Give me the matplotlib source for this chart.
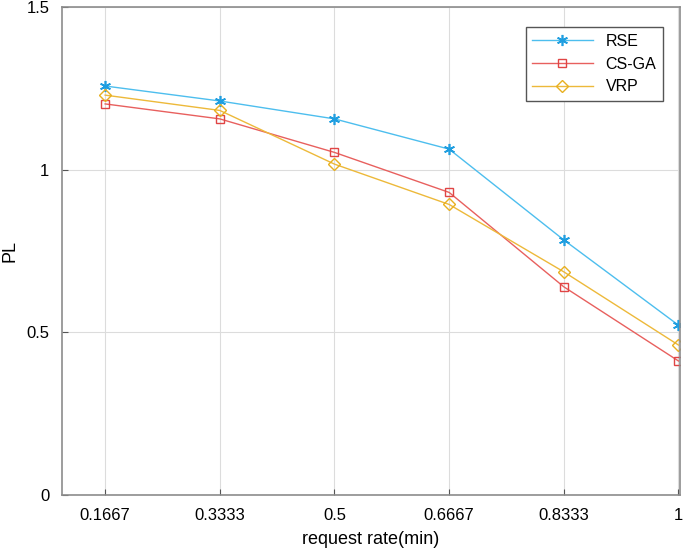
import matplotlib
matplotlib.use("Agg")
import matplotlib.pyplot as plt

plt.rcParams['font.family'] = ['Liberation Sans', 'DejaVu Sans']

rates = [0.1667, 0.3333, 0.5, 0.6667, 0.8333, 1.0]
rate_labels = ['0.1667', '0.3333', '0.5', '0.6667', '0.8333', '1']
rse = [1.257, 1.211, 1.156, 1.063, 0.784, 0.522]
csga = [1.202, 1.156, 1.053, 0.930, 0.640, 0.412]
vrp = [1.229, 1.182, 1.017, 0.893, 0.686, 0.461]

fig = plt.figure(figsize=(6.85, 5.55), dpi=100)
ax = fig.add_axes([0.0905, 0.108, 0.902, 0.8795])

# asterisk marker like matlab '*'
ax.plot(rates, rse, color='#4DBEEE', marker=(6, 2, 0), markersize=8, linewidth=1,
        markeredgecolor='#1f9ee0', markeredgewidth=1.2, label='RSE')
ax.plot(rates, csga, color='#E8605E', marker='s', markersize=6, linewidth=1,
        markerfacecolor='none', markeredgecolor='#E04545', label='CS-GA')
ax.plot(rates, vrp, color='#EDB93A', marker='D', markersize=6.5, linewidth=1,
        markerfacecolor='none', markeredgecolor='#E8B020', label='VRP')

ax.set_xlim(0.104, 1.002)
ax.set_ylim(0, 1.5)
ax.set_xticks(rates)
ax.set_xticklabels(rate_labels)
ax.set_yticks([0, 0.5, 1, 1.5])
ax.set_yticklabels(['0', '0.5', '1', '1.5'])
ax.tick_params(labelsize=12, direction='in', length=4, color='#555555', pad=9)
ax.grid(True, color='#dcdcdc', linewidth=0.8)
for s in ax.spines.values():
    s.set_color('#8c8c8c')
    s.set_linewidth(1.2)

ax.set_xlabel('request rate(min)', fontsize=13, labelpad=6)
ax.set_ylabel('PL', fontsize=13, labelpad=6)

leg = ax.legend(loc='upper right', bbox_to_anchor=(0.985, 0.975), fontsize=11.5,
                fancybox=False, framealpha=1, handlelength=3.8)
leg.get_frame().set_edgecolor('#555555')

fig.savefig('out.png', dpi=100)
